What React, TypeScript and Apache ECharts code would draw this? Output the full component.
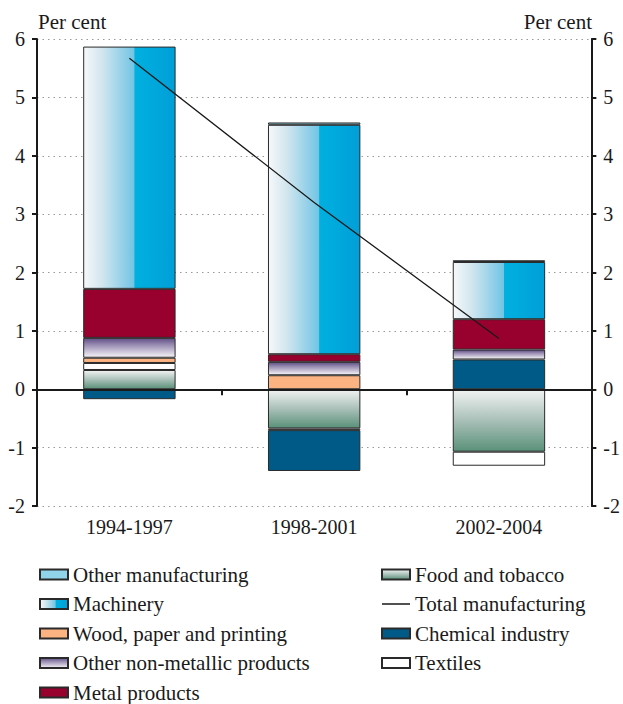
import React, { useEffect, useRef } from "react";
import * as echarts from "echarts";

const categories = ["1994-1997", "1998-2001", "2002-2004"];
const foodTobacco = [0.33, -0.67, -1.07];
const textiles = [0.12, -0.03, -0.24];
const chemical = [-0.17, -0.7, 0.51];
const woodPaper = [0.09, 0.24, 0];
const nonMetallic = [0.34, 0.23, 0.17];
const metalProducts = [0.84, 0.13, 0.52];
const machinery = [4.15, 3.93, 0.98];
const otherManufacturing = [0, 0.04, 0.03];
const totalManufacturing = [5.67, 3.2, 0.87];
const yTicks = [-2, -1, 0, 1, 2, 3, 4, 5, 6];

const legendLeft = [
  "Other manufacturing",
  "Machinery",
  "Wood, paper and printing",
  "Other non-metallic products",
  "Metal products",
];
const legendRight = ["Food and tobacco", "Total manufacturing", "Chemical industry", "Textiles"];

const FONT = "Liberation Serif, Times New Roman, serif";
const BORDER = "#2a2a2a";
const INK = "#1a1a1a";

const LINE_ICON =
  "path://M0,0L0.01,0L0,0.01Z M0,4.35L28,4.35L28,5.65L0,5.65Z M28,10L27.99,10L28,9.99Z";

const lin = (x2: number, y2: number, stops: [number, string][]) =>
  new echarts.graphic.LinearGradient(
    0,
    0,
    x2,
    y2,
    stops.map(([offset, color]) => ({ offset, color }))
  );

export default function App() {
  const ref = useRef<HTMLDivElement>(null);
  useEffect(() => {
    document.body.style.margin = "0";
    if (!ref.current) return;
    const chart = echarts.init(ref.current, null, { renderer: "svg" });
    const clean = (arr: number[]) => arr.map((v) => (v === 0 ? "-" : v));
    const barBase = (name: string, data: number[], color: any) => ({
      name,
      type: "bar",
      stack: "total",
      barWidth: "50%",
      data: clean(data),
      itemStyle: { color, borderColor: BORDER, borderWidth: 1 },
      xAxisIndex: 0,
      yAxisIndex: 0,
    });
    const machineryGrad = lin(1, 0, [
      [0, "#f6f8fa"],
      [0.2, "#d2e6ee"],
      [0.55, "#72c5e4"],
      [0.56, "#00b0df"],
      [1, "#009fd8"],
    ]);
    const nonMetGrad = lin(0, 1, [
      [0, "#5f4f85"],
      [0.35, "#9a8db3"],
      [1, "#f6f5f8"],
    ]);
    const foodGrad = lin(0, 1, [
      [0, "#f1f3f3"],
      [0.5, "#a9c0b8"],
      [1, "#5a917a"],
    ]);
    const legendCommon = {
      orient: "vertical",
      top: 564,
      height: 145,
      padding: 0,
      icon: "rect",
      itemWidth: 28,
      itemHeight: 10,
      itemGap: 8.5,
      textStyle: { fontSize: 21, color: INK, fontFamily: FONT },
    };
    const option: any = {
      animation: false,
      textStyle: { fontFamily: FONT },
      grid: { left: 37, right: 31, top: 39, bottom: 198, containLabel: false },
      xAxis: [
        {
          type: "category",
          data: categories,
          axisLine: { onZero: true, lineStyle: { color: INK, width: 2 } },
          axisTick: { show: true, length: 6, lineStyle: { color: INK, width: 2 } },
          axisLabel: { show: false },
          splitLine: { show: false },
          z: 10,
        },
        {
          type: "category",
          data: categories,
          position: "bottom",
          axisLine: { show: false, onZero: false },
          axisTick: { show: false },
          axisLabel: { fontSize: 20, color: INK, fontFamily: FONT, margin: 11 },
        },
      ],
      yAxis: [
        {
          type: "value",
          position: "left",
          min: yTicks[0],
          max: yTicks[yTicks.length - 1],
          interval: 1,
          axisLine: { show: true, lineStyle: { color: INK, width: 2 } },
          axisTick: { show: true, length: 5, lineStyle: { color: INK, width: 2 } },
          axisLabel: { fontSize: 20, color: INK, fontFamily: FONT, margin: 12 },
          splitLine: {
            show: true,
            lineStyle: { color: "#9a9a9a", type: [1.5, 4], width: 1 },
          },
        },
        {
          type: "value",
          position: "right",
          min: yTicks[0],
          max: yTicks[yTicks.length - 1],
          interval: 1,
          axisLine: { show: true, lineStyle: { color: INK, width: 2 } },
          axisTick: { show: true, length: 5, lineStyle: { color: INK, width: 2 } },
          axisLabel: { fontSize: 20, color: INK, fontFamily: FONT, margin: 12 },
          splitLine: { show: false },
        },
      ],
      legend: [
        { ...legendCommon, left: 39, data: legendLeft },
        {
          ...legendCommon,
          left: 381,
          data: legendRight.map((n) =>
            n === "Total manufacturing"
              ? { name: n, icon: LINE_ICON, itemStyle: { color: INK, borderWidth: 0 } }
              : n
          ),
        },
      ],
      graphic: [
        {
          type: "text",
          left: 38,
          top: 11,
          style: { text: "Per cent", fontSize: 21, fill: INK, fontFamily: FONT },
        },
        {
          type: "text",
          right: 31,
          top: 11,
          style: { text: "Per cent", fontSize: 21, fill: INK, fontFamily: FONT },
        },
      ],
      series: [
        barBase("Food and tobacco", foodTobacco, foodGrad),
        barBase("Textiles", textiles, "#ffffff"),
        barBase("Chemical industry", chemical, "#005a87"),
        barBase("Wood, paper and printing", woodPaper, "#fbb382"),
        barBase("Other non-metallic products", nonMetallic, nonMetGrad),
        barBase("Metal products", metalProducts, "#98002e"),
        barBase("Machinery", machinery, machineryGrad),
        barBase("Other manufacturing", otherManufacturing, "#8fd4e8"),
        {
          name: "Total manufacturing",
          type: "line",
          data: totalManufacturing,
          symbol: "none",
          showSymbol: false,
          z: 20,
          lineStyle: { color: INK, width: 1.3 },
          itemStyle: { color: INK },
        },
      ],
    };
    chart.setOption(option);
    return () => chart.dispose();
  }, []);
  return <div ref={ref} style={{ width: 623, height: 704 }} />;
}
